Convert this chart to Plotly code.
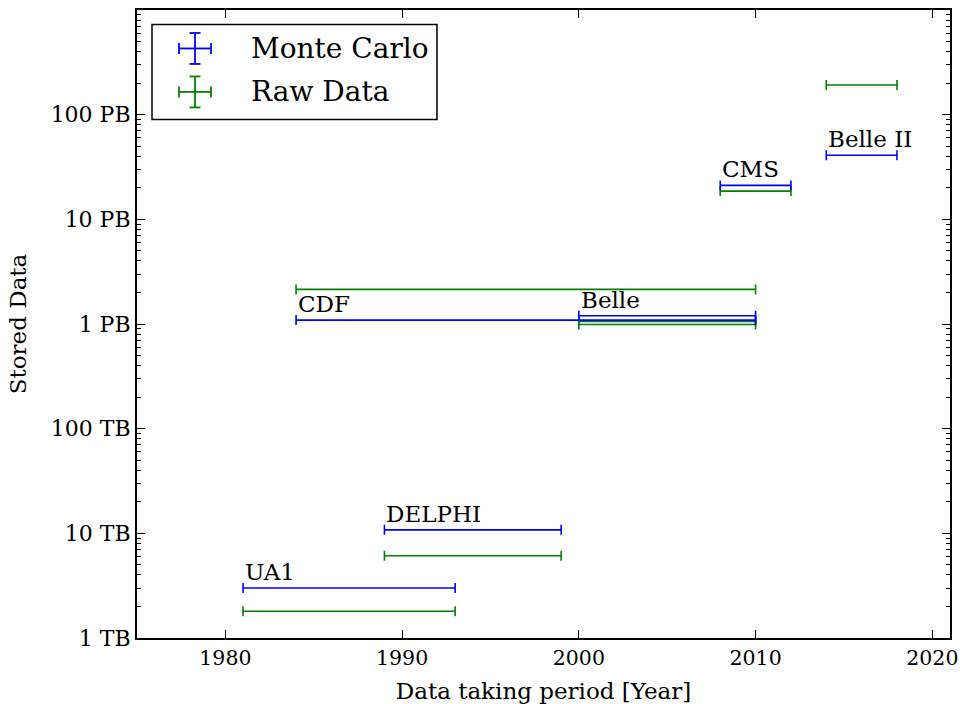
import math
import plotly.graph_objects as go

# ---------------- data ----------------
experiments = ["UA1", "DELPHI", "CDF", "Belle", "CMS", "Belle II"]
period_start = [1981, 1989, 1984, 2000, 2008, 2014]
period_end = [1993, 1999, 2010, 2010, 2012, 2018]
# stored data in TB
mc_tb = [3.0, 10.8, 1090, 1200, 21100, 41000]
raw_tb = [1.8, 6.1, 2140, 990, 18600, 192000]
# additional raw-data bar visible in the Belle period
extra_raw_start = [2000]
extra_raw_end = [2010]
extra_raw_tb = [1060]

y_tickvals = [1, 10, 100, 1000, 10000, 100000]
y_ticktext = ["1 TB", "10 TB", "100 TB", "1 PB", "10 PB", "100 PB"]
x_tickvals = [1980, 1990, 2000, 2010, 2020]

BLUE = "#0000ff"
GREEN = "#008000"
FONT = "DejaVu Serif"

# plot area in pixels (for legend drawing)
L, R, T, B = 137, 950, 9.5, 638


def px(x):
    return (x - L) / (R - L)


def py(y):
    return (B - y) / (B - T)


def centers(s, e):
    return [(a + b) / 2 for a, b in zip(s, e)]


def halfw(s, e):
    return [(b - a) / 2 for a, b in zip(s, e)]


fig = go.Figure()


def add_bars(s, e, v, color):
    fig.add_trace(go.Scatter(
        x=centers(s, e), y=v, mode="markers",
        marker=dict(size=1, color=color, opacity=0),
        error_x=dict(type="data", array=halfw(s, e), color=color,
                     thickness=1.6, width=5),
        showlegend=False, hoverinfo="skip"))


add_bars(period_start, period_end, raw_tb, GREEN)
add_bars(extra_raw_start, extra_raw_end, extra_raw_tb, GREEN)
add_bars(period_start, period_end, mc_tb, BLUE)

# experiment labels (log axis: annotation y in log10 units)
for name, s, v in zip(experiments, period_start, mc_tb):
    fig.add_annotation(x=s, y=math.log10(v), text=name, showarrow=False,
                       xanchor="left", yanchor="bottom", xshift=0, yshift=1,
                       font=dict(family=FONT, size=23, color="black"))

# minor ticks on log axis
minor_vals = [m * 10 ** d for d in range(0, 6) for m in range(2, 10)]

fig.update_layout(
    width=960, height=704,
    margin=dict(l=L, r=960 - R, t=T, b=704 - B),
    plot_bgcolor="white", paper_bgcolor="white",
    font=dict(family=FONT, size=20, color="black"),
    showlegend=False,
    xaxis=dict(
        range=[1975, 2021], tickvals=x_tickvals, ticks="inside",
        ticklen=8, tickwidth=1, tickcolor="black",
        showline=True, linecolor="black", linewidth=2, mirror="allticks",
        showgrid=False, zeroline=False, automargin=False,
        title=dict(text="Data taking period [Year]", font=dict(size=23), standoff=16),
        tickfont=dict(size=20.5),
    ),
    yaxis=dict(
        type="log", range=[0, 6], tickvals=y_tickvals, ticktext=y_ticktext,
        ticks="inside", ticklen=8, tickwidth=1, tickcolor="black",
        showline=True, linecolor="black", linewidth=2, mirror="allticks",
        showgrid=False, zeroline=False, automargin=False,
        minor=dict(tickvals=minor_vals, ticks="inside", ticklen=4,
                   tickcolor="black", showgrid=False),
        title=dict(text="Stored Data", font=dict(size=23), standoff=18),
        tickfont=dict(size=22),
    ),
)

# ---------- manual legend ----------
shapes = []
shapes.append(dict(type="rect", xref="paper", yref="paper",
                   x0=px(152), x1=px(437), y0=py(119), y1=py(24),
                   line=dict(color="black", width=1.5), fillcolor="white",
                   layer="above"))


def cross(cx, cy, color):
    out = []
    lw = 1.8
    out.append(dict(type="line", xref="paper", yref="paper",
                    x0=px(cx - 16), x1=px(cx + 16), y0=py(cy), y1=py(cy),
                    line=dict(color=color, width=lw), layer="above"))
    out.append(dict(type="line", xref="paper", yref="paper",
                    x0=px(cx), x1=px(cx), y0=py(cy - 15.5), y1=py(cy + 15.5),
                    line=dict(color=color, width=lw), layer="above"))
    for dx in (-16, 16):
        out.append(dict(type="line", xref="paper", yref="paper",
                        x0=px(cx + dx), x1=px(cx + dx), y0=py(cy - 5.5), y1=py(cy + 5.5),
                        line=dict(color=color, width=lw), layer="above"))
    for dy in (-15.5, 15.5):
        out.append(dict(type="line", xref="paper", yref="paper",
                        x0=px(cx - 5.5), x1=px(cx + 5.5), y0=py(cy + dy), y1=py(cy + dy),
                        line=dict(color=color, width=lw), layer="above"))
    return out


shapes += cross(195, 48, BLUE)
shapes += cross(195, 91.5, GREEN)
fig.update_layout(shapes=shapes)

for label, yy in (("Monte Carlo", 48), ("Raw Data", 91.5)):
    fig.add_annotation(xref="paper", yref="paper", x=px(249), y=py(yy),
                       text=label, showarrow=False, xanchor="left", yanchor="middle",
                       font=dict(family=FONT, size=28, color="black"))

fig.write_html("out.html")
